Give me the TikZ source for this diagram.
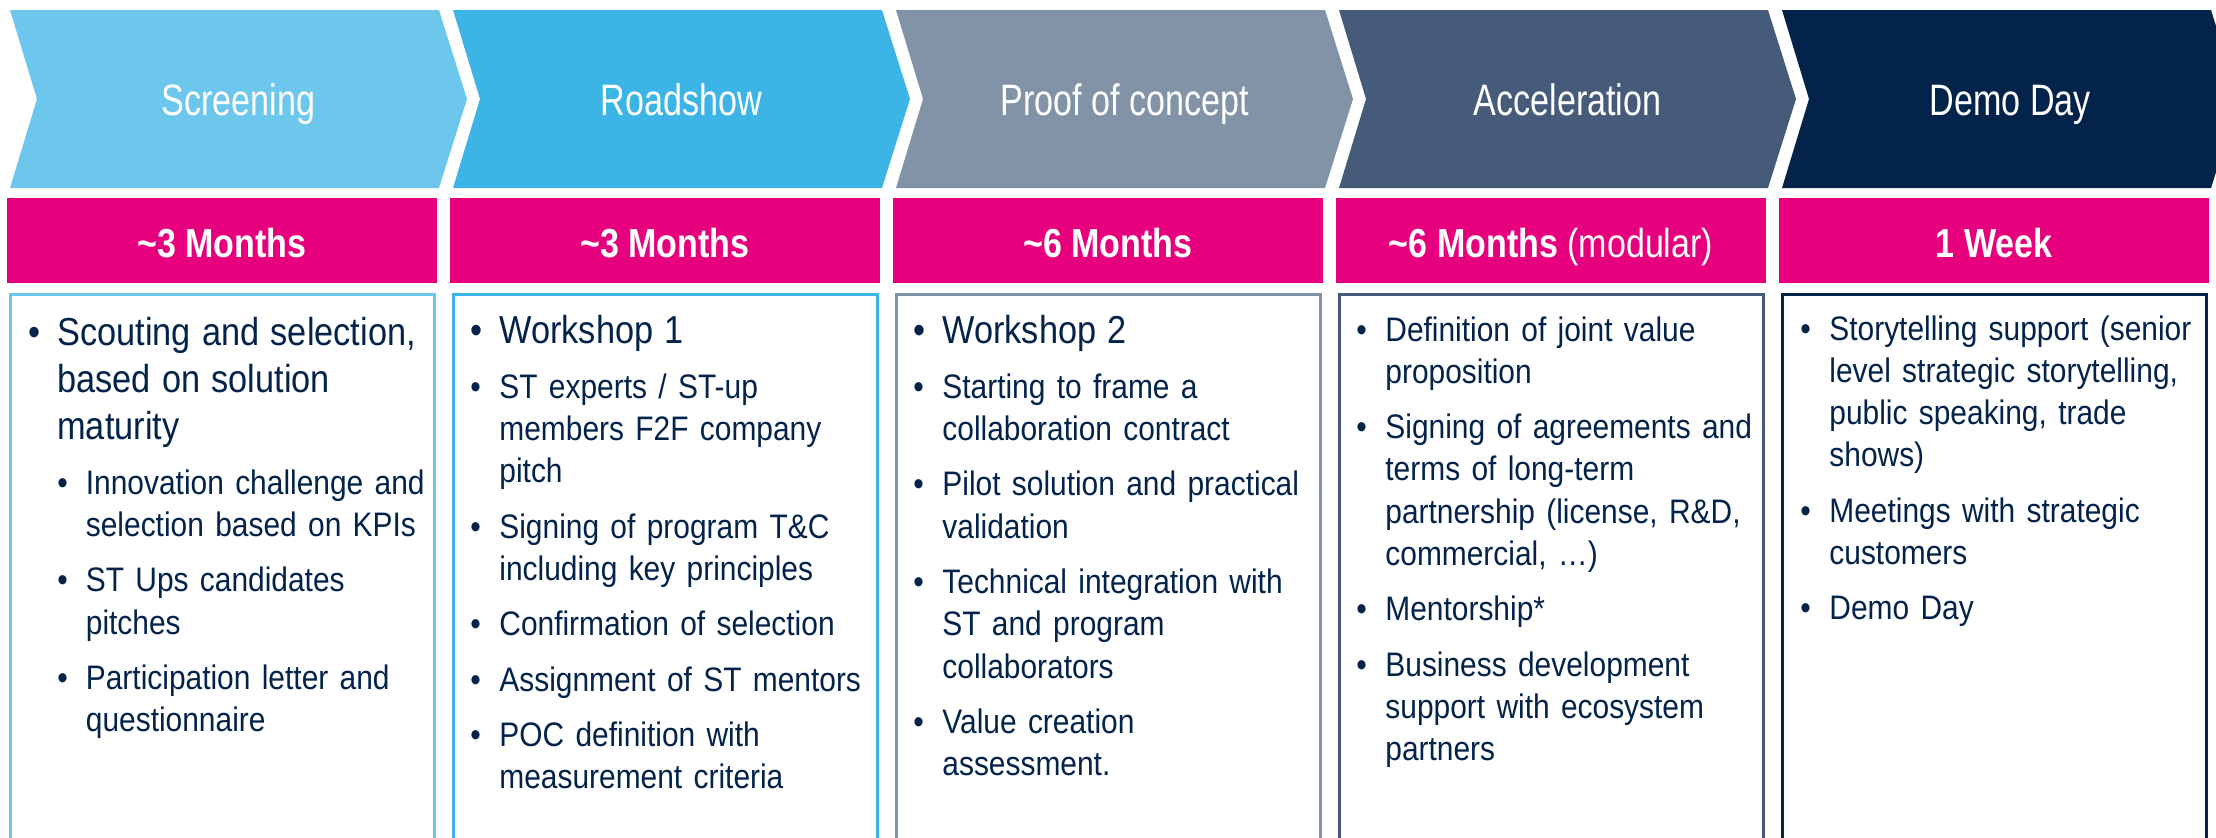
\documentclass[tikz,border=0pt]{standalone}
\usepackage{fontspec}
\setmainfont[FakeStretch=0.88]{Liberation Sans}
\newfontfamily\hdfont[FakeStretch=0.775]{Liberation Sans}
\newfontfamily\pkfont[FakeStretch=0.84]{Liberation Sans}
\definecolor{cA}{HTML}{6DC6EC}
\definecolor{cB}{HTML}{3CB4E5}
\definecolor{cC}{HTML}{8393A7}
\definecolor{cD}{HTML}{465B7A}
\definecolor{cE}{HTML}{03234B}
\definecolor{pinkbar}{HTML}{E6007E}
\definecolor{txt}{HTML}{03234B}
\newcommand\bul[1]{\hangindent=14.5pt\hangafter=1\noindent\makebox[14.5pt][l]{\textbullet}#1\par}
\newcommand\sbul[1]{\hangindent=28.75pt\hangafter=1\noindent\hspace*{14.5pt}\makebox[14.25pt][l]{\textbullet}#1\par}
\newcommand\bigsz{\fontsize{19.5pt}{23.5pt}\selectfont}
\newcommand\smsz{\fontsize{17pt}{21.15pt}\selectfont}
\tikzset{
  hdlabel/.style={text=white, inner sep=0pt, anchor=base, font=\hdfont\fontsize{22pt}{26pt}\selectfont},
  pklabel/.style={text=white, inner sep=0pt, anchor=base, font=\pkfont\fontsize{20.25pt}{24pt}\selectfont},
  bodytext/.style={text=txt, inner sep=0pt, anchor=base west, text width=215pt,
    font=\smsz\setlength{\parskip}{6.5pt}\raggedright},
  boxframe/.style={draw=#1, line width=1.5pt, fill=white}
}
\begin{document}
\begin{tikzpicture}[x=0.5pt,y=-0.5pt]
\useasboundingbox (0,0) rectangle (2216,837);
\clip (0,0) rectangle (2216,837);
% chevrons, duration bars and frames
\foreach \i/\c in {0/cA,1/cB,2/cC,3/cD,4/cE}{
  \pgfmathsetmacro{\L}{10+443*\i}
  \fill[\c] (\L,10) -- ({\L+429},10) -- ({\L+457},99) -- ({\L+429},188) -- (\L,188) -- ({\L+27},99) -- cycle;
  \fill[pinkbar] ({\L-3},198) rectangle ({\L+427},283);
  \draw[boxframe=\c] (\L,294) rectangle ({\L+424},900);
}
% header labels
\node[hdlabel] (h1) at (238.5,115) {Screening};
\node[hdlabel] (h2) at (681.5,115) {Roadshow};
\node[hdlabel] (h3) at (1124.5,115) {Proof of concept};
\node[hdlabel] (h4) at (1567.5,115) {Acceleration};
\node[hdlabel] (h5) at (2010.5,115) {Demo Day};
% durations
\node[pklabel] (d1) at (222,257) {\bfseries\textasciitilde3 Months};
\node[pklabel] (d2) at (665,257) {\bfseries\textasciitilde3 Months};
\node[pklabel] (d3) at (1108,257) {\bfseries\textasciitilde6 Months};
\node[pklabel] (d4) at (1551,257) {{\bfseries\textasciitilde6 Months} (modular)};
\node[pklabel] (d5) at (1994,257) {\bfseries 1 Week};
% column texts
\node[bodytext] (t1) at (28,345) {\bigsz
  \bul{Scouting and selection,\newline based on solution\newline maturity}\smsz
  \sbul{Innovation challenge and\newline selection based on KPIs}
  \sbul{ST Ups candidates\newline pitches}
  \sbul{Participation letter and\newline questionnaire}};
\node[bodytext] (t2) at (470,343) {\bigsz
  \bul{Workshop 1}\smsz
  \bul{ST experts / ST-up\newline members F2F company\newline pitch}
  \bul{Signing of program T\&C\newline including key principles}
  \bul{Confirmation of selection}
  \bul{Assignment of ST mentors}
  \bul{POC definition with\newline measurement criteria}};
\node[bodytext] (t3) at (913,343) {\bigsz
  \bul{Workshop 2}\smsz
  \bul{Starting to frame a\newline collaboration contract}
  \bul{Pilot solution and practical\newline validation}
  \bul{Technical integration with\newline ST and program\newline collaborators}
  \bul{Value creation\newline assessment.}};
\node[bodytext] (t4) at (1356,341) {\smsz
  \bul{Definition of joint value\newline proposition}
  \bul{Signing of agreements and\newline terms of long-term\newline partnership (license, R\&D,\newline commercial, …)}
  \bul{Mentorship*}
  \bul{Business development\newline support with ecosystem\newline partners}};
\node[bodytext] (t5) at (1800,340) {\smsz
  \bul{Storytelling support (senior\newline level strategic storytelling,\newline public speaking, trade\newline shows)}
  \bul{Meetings with strategic\newline customers}
  \bul{Demo Day}};
\end{tikzpicture}
\end{document}
